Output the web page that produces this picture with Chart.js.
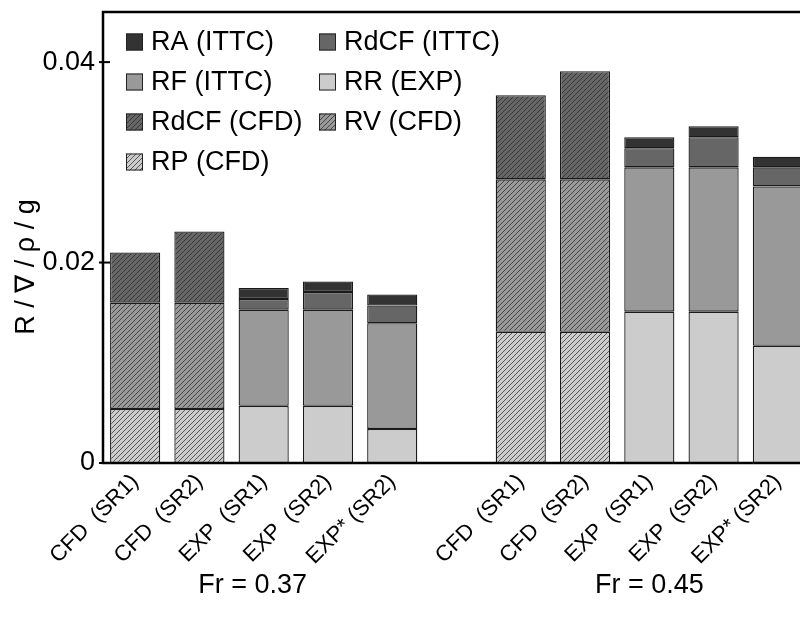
<!DOCTYPE html>
<html>
<head>
<meta charset="utf-8">
<script src="https://cdn.jsdelivr.net/npm/chart.js@4/dist/chart.umd.min.js"></script>
<style>
  html, body { margin: 0; padding: 0; background: #fff; overflow: hidden; }
  #clip { width: 800px; height: 617px; overflow: hidden; position: relative; }
  #wrap { width: 812px; height: 617px; position: absolute; left: 0; top: 0; }
</style>
</head>
<body>
<div id="clip"><div id="wrap"><canvas id="resChart"></canvas></div></div>
<script>
const categories = [
  "CFD  (SR1)", "CFD  (SR2)", "EXP  (SR1)", "EXP  (SR2)", "EXP* (SR2)", "",
  "CFD  (SR1)", "CFD  (SR2)", "EXP  (SR1)", "EXP  (SR2)", "EXP* (SR2)"
];
const groupLabels = ["Fr = 0.37", "Fr = 0.45"];
const yTicks = [0, 0.02, 0.04];

// stacked bottom -> top
const rpCFD    = [0.0054, 0.0054, null, null, null, null, 0.0131, 0.0131, null, null, null];
const rvCFD    = [0.0106, 0.0106, null, null, null, null, 0.0152, 0.0152, null, null, null];
const rdcfCFD  = [0.0050, 0.0071, null, null, null, null, 0.0084, 0.0108, null, null, null];
const rrEXP    = [null, null, 0.0057, 0.0057, 0.0034, null, null, null, 0.0151, 0.0151, 0.0117];
const rfITTC   = [null, null, 0.0096, 0.0096, 0.01055, null, null, null, 0.0144, 0.0144, 0.0159];
const rdcfITTC = [null, null, 0.00106, 0.00176, 0.00176, null, null, null, 0.0019, 0.0030, 0.0019];
const raITTC   = [null, null, 0.0011, 0.00106, 0.0011, null, null, null, 0.0011, 0.0011, 0.00106];

const FONT = "'Liberation Sans', Arial, sans-serif";

function hatch(color) {
  const c = document.createElement("canvas");
  c.width = c.height = 5;
  const g = c.getContext("2d");
  g.fillStyle = color;
  g.fillRect(0, 0, 5, 5);
  g.strokeStyle = "#222";
  g.lineWidth = 0.7;
  g.beginPath();
  g.moveTo(0, 5); g.lineTo(5, 0);
  g.moveTo(-1, 1); g.lineTo(1, -1);
  g.moveTo(4, 6); g.lineTo(6, 4);
  g.stroke();
  return g.createPattern(c, "repeat");
}

const ds = (label, data, fill) => ({
  label, data,
  backgroundColor: fill,
  borderColor: "#1a1a1a",
  borderWidth: 1.3,
  borderSkipped: false,
  stack: "s",
  barPercentage: 0.78,
  categoryPercentage: 1
});

const datasets = [
  ds("RP (CFD)", rpCFD, hatch("#cccccc")),
  ds("RV (CFD)", rvCFD, hatch("#999999")),
  ds("RdCF (CFD)", rdcfCFD, hatch("#666666")),
  ds("RR (EXP)", rrEXP, "#cccccc"),
  ds("RF (ITTC)", rfITTC, "#999999"),
  ds("RdCF (ITTC)", rdcfITTC, "#666666"),
  ds("RA (ITTC)", raITTC, "#333333")
];

const framePlugin = {
  id: "frame",
  afterDraw(chart) {
    const { ctx, chartArea: a, scales } = chart;
    const y = scales.y, x = scales.x;
    ctx.save();
    // axes box (top, left, bottom)
    ctx.strokeStyle = "#000";
    ctx.lineWidth = 2.5;
    ctx.beginPath();
    ctx.moveTo(a.right + 5, a.top);
    ctx.lineTo(a.left, a.top);
    ctx.lineTo(a.left, a.bottom);
    ctx.lineTo(a.right + 5, a.bottom);
    ctx.stroke();
    // tick marks
    ctx.lineWidth = 2;
    yTicks.forEach((v) => {
      const py = y.getPixelForValue(v);
      ctx.beginPath();
      ctx.moveTo(a.left - 4, py);
      ctx.lineTo(a.left + 7, py);
      ctx.stroke();
    });
    // legend (two columns, reverse stack order)
    ctx.font = "27px " + FONT;
    ctx.textBaseline = "middle";
    const items = chart.data.datasets.slice().reverse();
    items.forEach((d, i) => {
      const col = i % 2, row = Math.floor(i / 2);
      const bx = col ? 319 : 126;
      const cy = 42 + row * 40;
      ctx.fillStyle = d.backgroundColor;
      ctx.fillRect(bx, cy - 8.5, 17, 17);
      ctx.lineWidth = 1;
      ctx.strokeStyle = "#222";
      ctx.strokeRect(bx + 0.5, cy - 8, 16, 16);
      ctx.fillStyle = "#000";
      ctx.fillText(d.label, bx + 25, cy + 1);
    });
    // y title
    ctx.save();
    ctx.translate(27, 267);
    ctx.rotate(-Math.PI / 2);
    ctx.textAlign = "center";
    ctx.fillText("R / \u2207 / \u03c1 / g", 0, 0);
    ctx.restore();
    // group labels
    ctx.textAlign = "center";
    ctx.fillText(groupLabels[0], x.getPixelForValue(2) - 11, 586);
    ctx.fillText(groupLabels[1], x.getPixelForValue(8), 586);
    ctx.restore();
  }
};

new Chart(document.getElementById("resChart"), {
  type: "bar",
  data: { labels: categories, datasets },
  options: {
    responsive: true,
    maintainAspectRatio: false,
    animation: false,
    layout: { padding: { top: 12, left: 0, right: 2, bottom: 0 } },
    plugins: { legend: { display: false }, tooltip: { enabled: false } },
    scales: {
      x: {
        stacked: true,
        grid: { display: false, drawTicks: false },
        border: { display: false },
        afterFit: (s) => { s.height = 154; s.paddingLeft = 0; s.paddingRight = 0; },
        ticks: {
          autoSkip: false,
          maxRotation: 45,
          minRotation: 45,
          padding: 6,
          color: "#000",
          font: { family: FONT, size: 22 }
        }
      },
      y: {
        stacked: true,
        min: 0,
        max: 0.045,
        grid: { display: false, drawTicks: false },
        border: { display: false },
        afterFit: (s) => { s.width = 103; s.paddingTop = 0; s.paddingBottom = 0; },
        afterBuildTicks: (s) => { s.ticks = yTicks.map((v) => ({ value: v })); },
        ticks: {
          padding: 8,
          color: "#000",
          font: { family: FONT, size: 27 },
          callback: (v) => (v === 0 ? "0" : v.toFixed(2))
        }
      }
    }
  },
  plugins: [framePlugin]
});
</script>
</body>
</html>
